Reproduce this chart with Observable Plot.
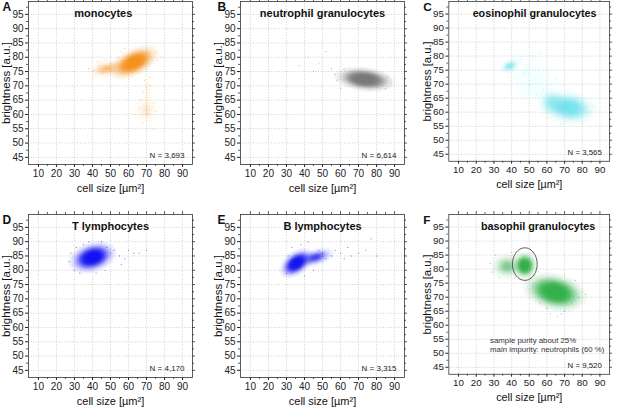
<!DOCTYPE html>
<html><head><meta charset="utf-8">
<script src="https://cdn.jsdelivr.net/npm/d3@7"></script>
<script src="https://cdn.jsdelivr.net/npm/@observablehq/plot@0.6"></script>
<style>
html,body{margin:0;padding:0;background:#fff;}
#fig{position:relative;width:617px;height:408px;overflow:hidden;background:#fff;font-family:"Liberation Sans",Arial,sans-serif;}
#fig > .panel{position:absolute;}
</style></head><body><div id="fig"></div>
<script>
// ---------- data ----------
const panelIds = ["A", "B", "C", "D", "E", "F"];
const panelTitles = ["monocytes", "neutrophil granulocytes", "eosinophil granulocytes", "T lymphocytes", "B lymphocytes", "basophil granulocytes"];
const panelCounts = ["N = 3,693", "N = 6,614", "N = 3,565", "N = 4,170", "N = 3,315", "N = 9,520"];
const panelColors = ["#f5911e", "#787878", "#72e3ed", "#1212f2", "#1616ee", "#33b04a"];
const xTicks = [10, 20, 30, 40, 50, 60, 70, 80, 90];
const yTicks = [45, 50, 55, 60, 65, 70, 75, 80, 85, 90, 95];
const xMinorTicks = [15, 25, 35, 45, 55, 65, 75, 85];
const yMinorTicks = [47.5, 52.5, 57.5, 62.5, 67.5, 72.5, 77.5, 82.5, 87.5, 92.5, 97.5];
const xLabel = "cell size [µm²]";
const yLabel = "brightness [a.u.]";

// cell clouds: centre, spread (x, y), tilt (dy per dx) and relative density
const clusterPanel   = ["A",  "A",  "A",  "A",  "B",   "C",   "C",  "C",  "C",   "D",  "E",  "E",  "F",  "F",  "F"];
const clusterX       = [63,   48,   70,   70.5, 73.5,  72.5,  63,   39,   52,    40,   35.5, 46,   47.5, 37.5, 64.5];
const clusterY       = [78.2, 76,   61.5, 68,   72.3,  61.6,  63.5, 76.5, 71,    84.5, 82.5, 84.5, 81.3, 81,   71.8];
const clusterRX      = [7.5,  6,    4.5,  3,    9,     8.5,   5,    3.5,  12,    7,    5,    6,    3.8,  5.5,  9.5];
const clusterRY      = [2.8,  1.8,  3,    4,    2.3,   3.3,   3,    1.5,  7,     2.9,  2.5,  1.8,  2.7,  2.8,  3.6];
const clusterSlope   = [0.22, 0.1,  0,    0,    -0.06, -0.05, 0,    0.15, -0.3,  0.12, 0.25, 0.15, 0,    0,    -0.1];
const clusterDensity = [1.4,  0.25, 0.07, 0.03, 1.6,   0.95,  0.3,  0.4,  0.025, 1.4,  1.4,  0.45, 1.3,  0.3,  1.5];

// sparse single cells outside the dense clouds
const scatterPanel = ["A","A","A","A","A","A","A","A","A","A","A","A","A","A","A","A","A","A","A","A","A","A","A","A","A","A","A","A","A","A",
  "B","B","B","B","B","B","B","B","B","B","B","B","B",
  "C","C","C","C","C","C","C","C","C","C","C","C","C","C","C","C","C","C","C",
  "D","D","D","D","D","D","D","D","D","D","D","D","D","D","D","D","D","D","D","D",
  "E","E","E","E","E","E","E","E","E","E","E","E","E","E","E","E","E","E","E","E",
  "F","F","F","F","F","F","F","F","F","F","F","F","F","F","F","F","F","F","F","F","F","F"];
const scatterX = [38,41,44,46,48,50,52,47,43,68,70,72,69,74,66,71,73,68,75,64,70,72,76,78,75,56,58,54,74,67,
  37,42,48,52,55,57,60,86,88,58,62,85,45,
  30,33,45,48,52,56,55,50,58,54,62,65,84,86,80,68,60,42,47,
  27,28,30,33,35,38,45,48,50,52,55,58,60,63,66,70,56,47,42,31,
  30,31,33,38,42,48,50,52,55,57,60,62,64,66,70,74,77,80,45,40,
  28,29,31,33,40,42,52,55,57,60,62,66,70,74,78,80,76,70,56,52,82,68];
const scatterY = [76,75.5,77,74.5,76,78,75,79,78.5,68,66,70,72,64,62,60,58,57,61,60,63,73,79,80,82,82,83,80,55,65,
  77,80,78,82,76,74,69,73,71,72,76,69,75,
  76,78,79,77,80,81,75,70,68,66,70,72,60,62,56,56,58,73,74,
  83,86,80,79,89,90,90,88,86,87,85,84,87,86,86,87,82,80,79,88,
  79,85,88,89,90,87,86,84,85,87,86,84,88,85,86,87,91,85,80,78,
  82,79,85,77,86,77,86,79,76,66,64,63,65,68,70,72,76,78,68,74,71,64];

// gate drawn around the basophils in panel F
const gatePanel = ["F"];
const gateX = [47.5];
const gateY = [81.8];
const gateRX = [7];
const gateRY = [5.8];
const noteLines = ["sample purity about 25%", "main impurity: neutrophils (60 %)"];

// ---------- layout / style ----------
const frameLeft = [28, 240, 449, 28, 240, 449];
const frameTop = [1, 1, 1, 213.5, 213.5, 213.5];
const letterLeft = [2, 217, 423, 2, 217, 423];
const titleX = [46, 50, 53, 50, 50, 55];
const FW = 164, FH = 163, ML = 34, MR = 8, MT = 2, MB = 38;
const xDom = [4.5, 95.5], yDom = [42.5, 99.5];
const kx = (xDom[1] - xDom[0]) / FW, ky = (yDom[1] - yDom[0]) / FH;
const levelScale = [1.9, 1.7, 1.5, 1.35, 1.2, 1.05, 0.9, 0.75, 0.6, 0.45, 0.3];
const levelAlpha = [0.04, 0.06, 0.09, 0.13, 0.18, 0.25, 0.33, 0.4, 0.45, 0.5, 0.5];
const ink = "#222";

function ring(cx, cy, rx, ry, slope, s) {
  const pts = [];
  for (let i = 0; i < 60; i++) {
    const t = 2 * Math.PI * i / 60;
    const dx = s * rx * Math.cos(t);
    pts.push({x: cx + dx, y: cy + s * ry * Math.sin(t) + slope * dx});
  }
  return pts;
}

const fig = document.getElementById("fig");
panelIds.forEach((id, p) => {
  const color = panelColors[p];
  const marks = [];
  // grid
  marks.push(Plot.ruleX(xTicks, {x: d => d, stroke: "#bdbdbd", strokeWidth: 0.7, strokeDasharray: "1,1.6"}));
  marks.push(Plot.ruleY(yTicks, {y: d => d, stroke: "#bdbdbd", strokeWidth: 0.7, strokeDasharray: "1,1.6"}));
  // dense clouds
  clusterPanel.forEach((cp, c) => {
    if (cp !== id) return;
    levelScale.forEach((s, k) => {
      marks.push(Plot.line(ring(clusterX[c], clusterY[c], clusterRX[c], clusterRY[c], clusterSlope[c], s),
        {x: "x", y: "y", fill: color, fillOpacity: Math.min(1, levelAlpha[k] * clusterDensity[c]), stroke: "none", curve: "linear-closed"}));
    });
  });
  // sparse cells
  const pts = [];
  scatterPanel.forEach((sp, i) => { if (sp === id) pts.push({x: scatterX[i], y: scatterY[i]}); });
  marks.push(Plot.dot(pts, {x: "x", y: "y", r: 0.6, fill: color, fillOpacity: 0.55, stroke: null}));
  // gate
  gatePanel.forEach((gp, g) => {
    if (gp !== id) return;
    marks.push(Plot.line(ring(gateX[g], gateY[g], gateRX[g], gateRY[g], 0, 1),
      {x: "x", y: "y", stroke: "#555", strokeWidth: 1, curve: "linear-closed"}));
  });
  // frame and extra ticks
  marks.push(Plot.frame({stroke: "#333", strokeWidth: 0.8}));
  const tk = {stroke: "#333", strokeWidth: 0.8};
  marks.push(Plot.ruleX(xMinorTicks, {x: d => d, y1: yDom[0], y2: yDom[0] - 2 * ky, ...tk}));
  marks.push(Plot.ruleY(yMinorTicks, {y: d => d, x1: xDom[0], x2: xDom[0] - 2 * kx, ...tk}));
  marks.push(Plot.ruleY(yTicks, {y: d => d, x1: xDom[1], x2: xDom[1] + 3 * kx, ...tk}));
  marks.push(Plot.ruleY(yMinorTicks, {y: d => d, x1: xDom[1], x2: xDom[1] + 2 * kx, ...tk}));
  marks.push(Plot.ruleX(xTicks, {x: d => d, y1: yDom[1], y2: yDom[1] + 3 * ky, ...tk}));
  marks.push(Plot.ruleX(xMinorTicks, {x: d => d, y1: yDom[1], y2: yDom[1] + 2 * ky, ...tk}));
  // texts
  marks.push(Plot.text([panelTitles[p]], {x: titleX[p], y: 95.3, text: d => d, fontWeight: "bold", fontSize: 11, fill: "#111"}));
  marks.push(Plot.text([panelCounts[p]], {frameAnchor: "bottom-right", dx: -8, dy: -6.5, text: d => d, textAnchor: "end", fontSize: 8, fill: ink}));
  marks.push(Plot.text([id], {frameAnchor: "top-left", dx: letterLeft[p] - frameLeft[p], dy: 9.5, text: d => d, lineAnchor: "bottom", textAnchor: "start", fontWeight: "bold", fontSize: 12, fill: "#111"}));
  marks.push(Plot.text([yLabel], {frameAnchor: "left", dx: -22, rotate: -90, text: d => d, textAnchor: "middle", lineAnchor: "middle", fontSize: 11.5, fill: "#111"}));
  marks.push(Plot.text([xLabel], {frameAnchor: "bottom", dy: 27, text: d => d, textAnchor: "middle", fontSize: 11, fill: "#111"}));
  if (id === "F") {
    marks.push(Plot.text([noteLines[0]], {frameAnchor: "bottom-left", dx: 42, dy: -31.5, text: d => d, textAnchor: "start", fontSize: 8, fill: "#333"}));
    marks.push(Plot.text([noteLines[1]], {frameAnchor: "bottom-left", dx: 42, dy: -22.5, text: d => d, textAnchor: "start", fontSize: 8, fill: "#333"}));
  }
  const chart = Plot.plot({
    width: ML + FW + MR, height: MT + FH + MB,
    marginLeft: ML, marginRight: MR, marginTop: MT, marginBottom: MB,
    x: {domain: xDom, ticks: xTicks, tickSize: 3, tickPadding: 2, label: null},
    y: {domain: yDom, ticks: yTicks, tickSize: 3, tickPadding: 2, label: null},
    style: {background: "transparent", fontFamily: "'Liberation Sans', Arial, sans-serif", fontSize: "10px", color: ink, overflow: "visible"},
    marks
  });
  const wrap = document.createElement("div");
  wrap.className = "panel";
  wrap.style.left = (frameLeft[p] - ML) + "px";
  wrap.style.top = (frameTop[p] - MT) + "px";
  wrap.appendChild(chart);
  fig.appendChild(wrap);
});
</script></body></html>
